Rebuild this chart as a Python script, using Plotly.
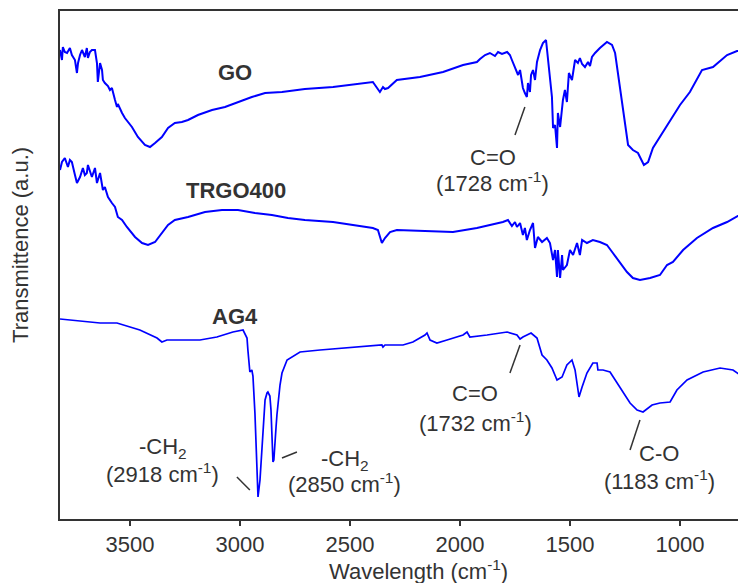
import plotly.graph_objects as go

# ---- data (wavenumber cm^-1, transmittance a.u. with vertical offsets) ----
go_wn = [3818, 3809, 3805, 3796, 3786, 3773, 3764, 3750, 3741, 3736, 3727, 3718, 3705, 3696, 3691, 3682,
         3673, 3659, 3650, 3646, 3636, 3627, 3623, 3614, 3600, 3591, 3582, 3577, 3568, 3559, 3555, 3536,
         3523, 3491, 3464, 3432, 3409, 3386, 3355, 3327, 3296, 3264, 3236, 3191, 3127, 3068, 3009, 2946,
         2886, 2809, 2705, 2577, 2396, 2373, 2364, 2350, 2341, 2327, 2287, 2182, 2077, 1986, 1923, 1909,
         1886, 1864, 1841, 1827, 1809, 1786, 1773, 1764, 1750, 1736, 1727, 1718, 1714, 1705, 1696, 1691,
         1682, 1677, 1668, 1659, 1650, 1636, 1623, 1609, 1600, 1591, 1582, 1577, 1568, 1559, 1555, 1545,
         1532, 1523, 1514, 1505, 1491, 1477, 1464, 1455, 1445, 1432, 1418, 1409, 1400, 1386, 1364, 1332,
         1309, 1295, 1282, 1259, 1236, 1214, 1191, 1164, 1145, 1123, 1077, 1036, 1000, 955, 900, 850,
         786, 741, 700]
go_val = [4.69, 4.59, 4.72, 4.67, 4.66, 4.71, 4.64, 4.59, 4.46, 4.56, 4.64, 4.69, 4.62, 4.71, 4.61, 4.67,
          4.69, 4.69, 4.56, 4.37, 4.56, 4.49, 4.39, 4.36, 4.33, 4.29, 4.31, 4.26, 4.19, 4.12, 4.15, 4.06,
          4.01, 3.92, 3.82, 3.74, 3.72, 3.76, 3.82, 3.91, 3.96, 3.97, 3.99, 4.04, 4.09, 4.12, 4.17, 4.22,
          4.26, 4.27, 4.30, 4.32, 4.37, 4.29, 4.27, 4.32, 4.30, 4.31, 4.39, 4.42, 4.47, 4.54, 4.57, 4.60,
          4.64, 4.66, 4.63, 4.67, 4.65, 4.67, 4.64, 4.59, 4.51, 4.44, 4.49, 4.37, 4.31, 4.26, 4.22, 4.36,
          4.27, 4.44, 4.49, 4.39, 4.57, 4.69, 4.76, 4.79, 4.62, 4.44, 4.22, 3.91, 3.94, 3.71, 4.06, 3.92,
          4.19, 4.29, 4.17, 4.46, 4.39, 4.59, 4.56, 4.61, 4.55, 4.52, 4.57, 4.53, 4.62, 4.66, 4.71, 4.77,
          4.74, 4.66, 4.46, 4.12, 3.74, 3.69, 3.66, 3.54, 3.57, 3.71, 3.87, 4.02, 4.14, 4.27, 4.49, 4.52,
          4.64, 4.68, 4.68]

trgo_wn = [3818, 3809, 3796, 3782, 3773, 3764, 3750, 3741, 3727, 3714, 3705, 3696, 3691, 3682, 3673, 3659,
           3650, 3636, 3623, 3614, 3600, 3582, 3568, 3555, 3536, 3514, 3477, 3445, 3418, 3386, 3355, 3327,
           3296, 3236, 3159, 3082, 3009, 2932, 2855, 2782, 2705, 2577, 2396, 2373, 2355, 2341, 2318, 2287,
           2032, 1923, 1864, 1805, 1782, 1764, 1750, 1741, 1727, 1714, 1705, 1696, 1682, 1668, 1659, 1646,
           1627, 1605, 1591, 1577, 1568, 1559, 1555, 1545, 1536, 1532, 1514, 1500, 1486, 1468, 1455, 1445,
           1423, 1396, 1364, 1332, 1305, 1273, 1241, 1214, 1182, 1136, 1091, 1059, 1032, 986, 923, 850,
           786, 705]
trgo_val = [3.49, 3.57, 3.61, 3.52, 3.59, 3.57, 3.44, 3.36, 3.42, 3.51, 3.44, 3.46, 3.54, 3.47, 3.42, 3.51,
            3.36, 3.46, 3.29, 3.32, 3.22, 3.16, 3.12, 3.02, 2.99, 2.92, 2.82, 2.76, 2.74, 2.77, 2.86, 2.94,
            2.99, 3.02, 3.07, 3.09, 3.09, 3.06, 3.04, 3.01, 2.99, 2.97, 2.91, 2.89, 2.76, 2.81, 2.87, 2.89,
            2.87, 2.91, 2.94, 2.97, 2.99, 2.93, 2.97, 2.92, 2.96, 2.84, 2.91, 2.79, 2.89, 2.96, 2.71, 2.82,
            2.77, 2.81, 2.76, 2.59, 2.69, 2.42, 2.69, 2.41, 2.64, 2.49, 2.54, 2.69, 2.64, 2.76, 2.64, 2.79,
            2.76, 2.79, 2.77, 2.74, 2.66, 2.57, 2.47, 2.41, 2.39, 2.41, 2.44, 2.54, 2.57, 2.69, 2.81, 2.91,
            2.97, 3.07]

ag4_wn = [3818, 3727, 3636, 3559, 3455, 3377, 3355, 3332, 3182, 3105, 3032, 2986, 2968, 2964, 2955, 2946,
          2941, 2932, 2927, 2923, 2918, 2909, 2900, 2886, 2877, 2873, 2864, 2859, 2850, 2846, 2836, 2832,
          2818, 2809, 2786, 2727, 2636, 2486, 2355, 2350, 2341, 2259, 2214, 2159, 2150, 2136, 2105, 2059,
          1986, 1968, 1955, 1877, 1786, 1741, 1727, 1714, 1677, 1650, 1627, 1605, 1582, 1559, 1536, 1514,
          1491, 1477, 1464, 1459, 1445, 1423, 1396, 1377, 1373, 1350, 1318, 1273, 1227, 1195, 1168, 1127,
          1091, 1045, 1014, 968, 895, 818, 759, 727, 714, 700]
ag4_val = [2.00, 1.98, 1.96, 1.96, 1.89, 1.81, 1.77, 1.79, 1.79, 1.82, 1.87, 1.89, 1.81, 1.69, 1.47, 1.49,
           1.43, 1.06, 0.79, 0.49, 0.22, 0.39, 0.69, 1.19, 1.26, 1.27, 1.23, 1.09, 0.57, 0.59, 0.92, 1.04,
           1.34, 1.46, 1.59, 1.67, 1.69, 1.72, 1.74, 1.72, 1.74, 1.74, 1.77, 1.84, 1.86, 1.79, 1.76, 1.79,
           1.84, 1.87, 1.82, 1.84, 1.87, 1.84, 1.80, 1.82, 1.86, 1.81, 1.64, 1.59, 1.51, 1.39, 1.42, 1.54,
           1.59, 1.49, 1.32, 1.22, 1.32, 1.46, 1.56, 1.56, 1.49, 1.49, 1.47, 1.32, 1.16, 1.09, 1.07, 1.14,
           1.16, 1.17, 1.29, 1.39, 1.47, 1.51, 1.49, 1.44, 1.36, 1.39]

x_ticks = [3500, 3000, 2500, 2000, 1500, 1000]

sample_names = ["GO", "TRGO400", "AG4"]
name_pos_wn = [3023, 3018, 3023]
name_pos_val = [4.47, 3.29, 2.03]

# peak annotations: label lines, text position, pointer line
peak_label1 = ["C=O", "C=O", "C-O", "-CH<sub>2</sub>", "-CH<sub>2</sub>"]
peak_label2 = ["(1728 cm<sup>-1</sup>)", "(1732 cm<sup>-1</sup>)", "(1183 cm<sup>-1</sup>)",
               "(2918 cm<sup>-1</sup>)", "(2850 cm<sup>-1</sup>)"]
peak_text_wn = [1850, 1930, 1095, 3350, 2523]
peak_text_val1 = [3.62, 1.26, 0.66, 0.71, 0.59]
peak_text_val2 = [3.37, 0.97, 0.39, 0.46, 0.36]
ptr_wn0 = [1705, 1727, 1182, 3014, 2809]
ptr_val0 = [4.12, 1.74, 0.99, 0.42, 0.61]
ptr_wn1 = [1750, 1773, 1227, 2955, 2741]
ptr_val1 = [3.84, 1.46, 0.69, 0.29, 0.67]

FONT = "Liberation Sans, Arial, sans-serif"
TXT = "#333333"
BLUE = "#0000ff"

fig = go.Figure()
fig.add_trace(go.Scatter(x=go_wn, y=go_val, mode="lines", line=dict(color=BLUE, width=2), showlegend=False))
fig.add_trace(go.Scatter(x=trgo_wn, y=trgo_val, mode="lines", line=dict(color=BLUE, width=2), showlegend=False))
fig.add_trace(go.Scatter(x=ag4_wn, y=ag4_val, mode="lines", line=dict(color=BLUE, width=1.7), showlegend=False))

for n, xw, yv in zip(sample_names, name_pos_wn, name_pos_val):
    fig.add_annotation(x=xw, y=yv, text="<b>" + n + "</b>", showarrow=False,
                       font=dict(family=FONT, size=22, color=TXT), xanchor="center", yanchor="middle")

for l1, l2, tx, ty1, ty2, a0, b0, a1, b1 in zip(peak_label1, peak_label2, peak_text_wn, peak_text_val1,
                                                 peak_text_val2, ptr_wn0, ptr_val0, ptr_wn1, ptr_val1):
    fig.add_annotation(x=tx, y=ty1, text=l1, showarrow=False,
                       font=dict(family=FONT, size=22, color=TXT), xanchor="center", yanchor="middle")
    fig.add_annotation(x=tx, y=ty2, text=l2, showarrow=False,
                       font=dict(family=FONT, size=22, color=TXT), xanchor="center", yanchor="middle")
    fig.add_shape(type="line", x0=a0, y0=b0, x1=a1, y1=b1, xref="x", yref="y",
                  line=dict(color=TXT, width=1.5))

# axis titles placed as annotations (reference positions are not centred on the plot area)
fig.add_annotation(xref="paper", yref="paper", x=0.523, y=-0.1, text="Wavelength (cm<sup>-1</sup>)",
                   showarrow=False, font=dict(family=FONT, size=22, color=TXT),
                   xanchor="center", yanchor="middle")
fig.add_annotation(xref="paper", yref="paper", x=-0.058, y=0.54, text="Transmittence (a.u.)",
                   textangle=-90, showarrow=False, font=dict(family=FONT, size=22, color=TXT),
                   xanchor="center", yanchor="middle")

# the page body has an 8px default margin, so the figure is sized/offset to compensate
fig.update_layout(
    width=738, height=575,
    margin=dict(l=52, r=0, t=3, b=64, autoexpand=False),
    paper_bgcolor="white", plot_bgcolor="white",
    font=dict(family=FONT, size=22, color=TXT),
)
fig.update_xaxes(
    range=[3818, 700], tickvals=x_ticks, ticktext=[str(t) for t in x_ticks],
    ticks="outside", ticklen=5, tickwidth=2, tickcolor=TXT,
    showline=True, linecolor=TXT, linewidth=2, mirror=True,
    showgrid=False, zeroline=False, automargin=False,
    tickfont=dict(family=FONT, size=22, color=TXT),
)
fig.update_yaxes(
    range=[0, 5.08], showticklabels=False, ticks="",
    showline=True, linecolor=TXT, linewidth=2,
    showgrid=False, zeroline=False, automargin=False,
)

fig.write_html("out.html")
